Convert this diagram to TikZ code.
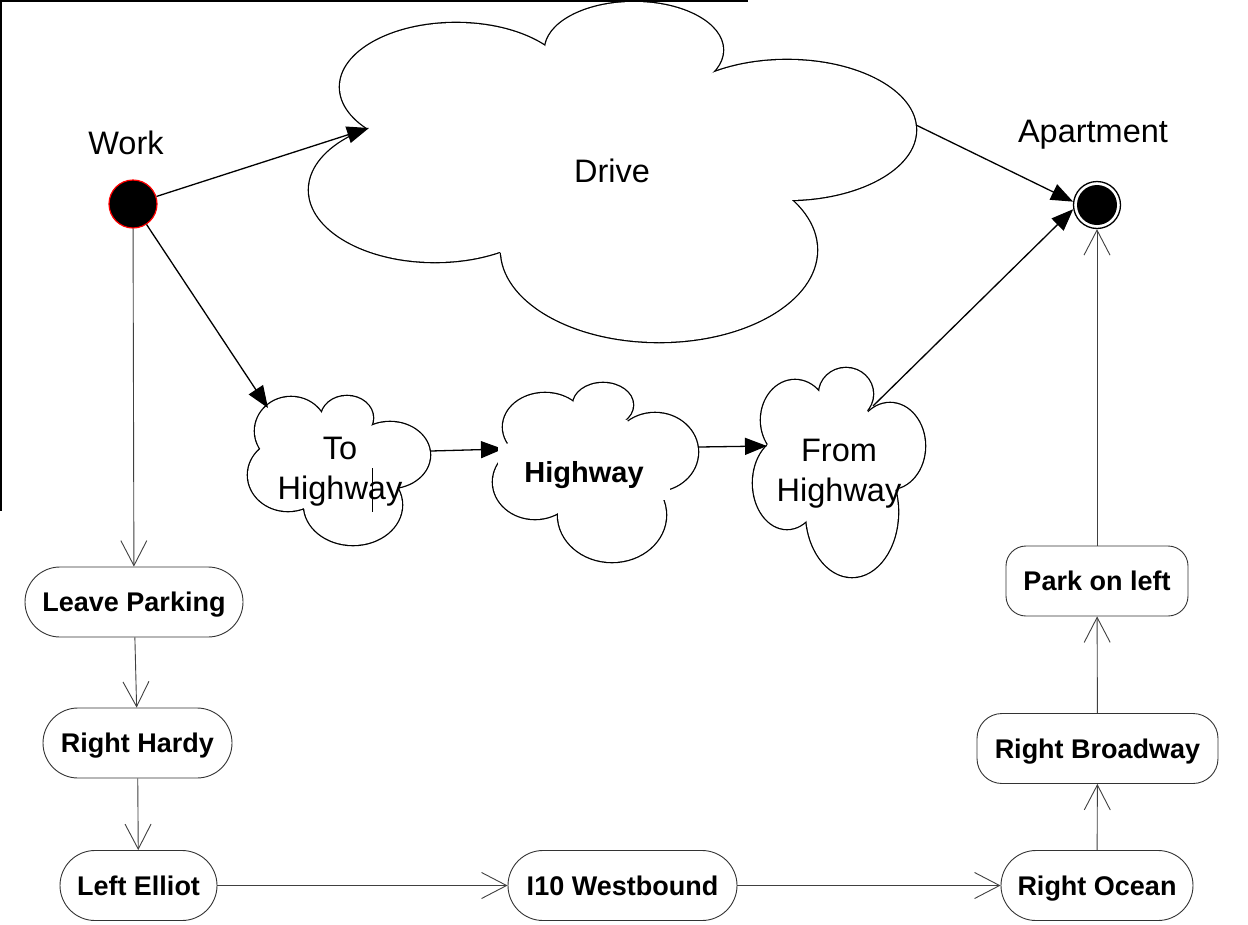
\documentclass[tikz,border=0pt]{standalone}
\usepackage{fontspec}
\setmainfont{Liberation Sans}
\usetikzlibrary{arrows.meta}
% cloud outline: union of elliptic lobes plus a core polygon
\newcommand\cloudoutline[2]{%
  \foreach \cx/\cy/\rx/\ry in {#1}
    \draw[line width=2.6pt] (\cx,\cy) ellipse[x radius=\rx pt, y radius=\ry pt];
  \foreach \cx/\cy/\rx/\ry in {#1}
    \fill[white] (\cx,\cy) ellipse[x radius=\rx pt, y radius=\ry pt];
  \fill[white] #2 -- cycle;
}
\begin{document}
\begin{tikzpicture}[x=1pt,y=-1pt,
  lbl/.style={font=\fontsize{32.5}{40}\selectfont, inner sep=0pt},
  solidarrow/.style={line width=1.3pt, -{Triangle[length=22pt,width=17pt]}},
  flowarrow/.style={draw=black!75, line width=0.9pt,
    -{Straight Barb[length=25pt,width=26pt,line width=0.9pt]}},
  actbox/.style={draw=black!80, line width=0.9pt, fill=white,
    rounded corners=35pt, minimum height=70pt, inner sep=0pt,
    font=\bfseries\fontsize{27}{30}\selectfont, text height=19.3pt, text depth=0pt}]

\fill[white] (0,0) rectangle (1248,924);
\useasboundingbox (0,0) rectangle (1248,924);

% frame lines
\draw[line width=1.3pt] (0,1) -- (748,1);
\draw[line width=1.3pt] (1,0) -- (1,511);

% clouds
\cloudoutline{456/87/116/64, 634/50/89/48, 787/130/129/70, 659/250/158/92, 435/190/126/72}
  {(549,50) -- (702,80) -- (785,199) -- (501,253) -- (369,128)}
\cloudoutline{291/431/36/34, 347/418/26/22, 390/455/40/33, 353/505/49/40, 288/475/40/36}
  {(264,451) -- (322,413) -- (365,433) -- (403,486) -- (307,508)}
\cloudoutline{545/427/42/34, 603/405/30/22, 655/452/43/39, 612/515/54/47, 535/482/42/37}
  {(505,445) -- (575,405) -- (627,420) -- (668,492) -- (558,513)}
\cloudoutline{795/420/34/40, 846/394/27/26, 890/446/35/43, 852/512/46/65, 787/483/34/46}
  {(767,445) -- (822,395) -- (867,410) -- (900,488) -- (808,523)}

% cloud labels
\node[lbl, anchor=base] (drive) at (612,182) {Drive};
\node[lbl, align=center] (tohwy) at (340,472) {To\\Highway};
\node[lbl, align=center] (fromhwy) at (839,474) {From\\Highway};
\draw[line width=0.9pt] (372,468) -- (372,512);

% attachment points on the clouds
\coordinate (drivein) at (369,128);
\coordinate (driveout) at (916,125);
\coordinate (tohwyin) at (268,408);
\coordinate (tohwyout) at (431,451);
\coordinate (hwyin) at (503,449);
\coordinate (hwyout) at (699,447);
\coordinate (fromhwyin) at (767,446);
\coordinate (fromhwyout) at (873,406);

% start and end states
\node[circle, fill=black, draw=red, line width=1.2pt, minimum size=48pt, inner sep=0pt] (work) at (133,204) {};
\node[lbl, anchor=base] (worklbl) at (126,154) {Work};
\node[circle, fill=white, draw=black, line width=1.3pt, minimum size=47pt, inner sep=0pt] (apt) at (1097,205) {};
\fill (apt.center) circle[radius=20pt];
\node[lbl, anchor=base] (aptlbl) at (1093,142) {Apartment};

% solid transitions
\draw[solidarrow] (work) -- (drivein);
\draw[solidarrow] (work) -- (tohwyin);
\draw[solidarrow] (tohwyout) -- (hwyin);
\draw[solidarrow] (hwyout) -- (fromhwyin);
\draw[solidarrow] (driveout) -- (apt.172);
\draw[solidarrow] (fromhwyout) -- (apt.190);

\node[fill=white, inner sep=0pt, minimum width=172pt, minimum height=56pt,
  text height=20pt, text depth=0pt, font=\bfseries\fontsize{29}{32}\selectfont]
  (hwy) at (584,472) {Highway};

% activity route
\node[actbox, minimum width=218pt] (leave) at (134,602) {Leave Parking};
\node[actbox, minimum width=189pt] (hardy) at (137.5,743) {Right Hardy};
\node[actbox, minimum width=157pt] (elliot) at (138.5,885.5) {Left Elliot};
\node[actbox, minimum width=229pt] (i10) at (622.5,885.5) {I10 Westbound};
\node[actbox, minimum width=192pt] (ocean) at (1097,885.5) {Right Ocean};
\node[actbox, minimum width=241pt, rounded corners=25pt] (broadway) at (1097.5,748.5) {Right Broadway};
\node[actbox, minimum width=182pt, rounded corners=20pt] (park) at (1097,581) {Park on left};

\draw[flowarrow] (work) -- (leave);
\draw[flowarrow] (leave) -- (hardy);
\draw[flowarrow] (hardy) -- (elliot);
\draw[flowarrow] (elliot) -- (i10);
\draw[flowarrow] (i10) -- (ocean);
\draw[flowarrow] (ocean) -- (broadway);
\draw[flowarrow] (broadway) -- (park);
\draw[flowarrow] (park) -- (apt);
\end{tikzpicture}
\end{document}
